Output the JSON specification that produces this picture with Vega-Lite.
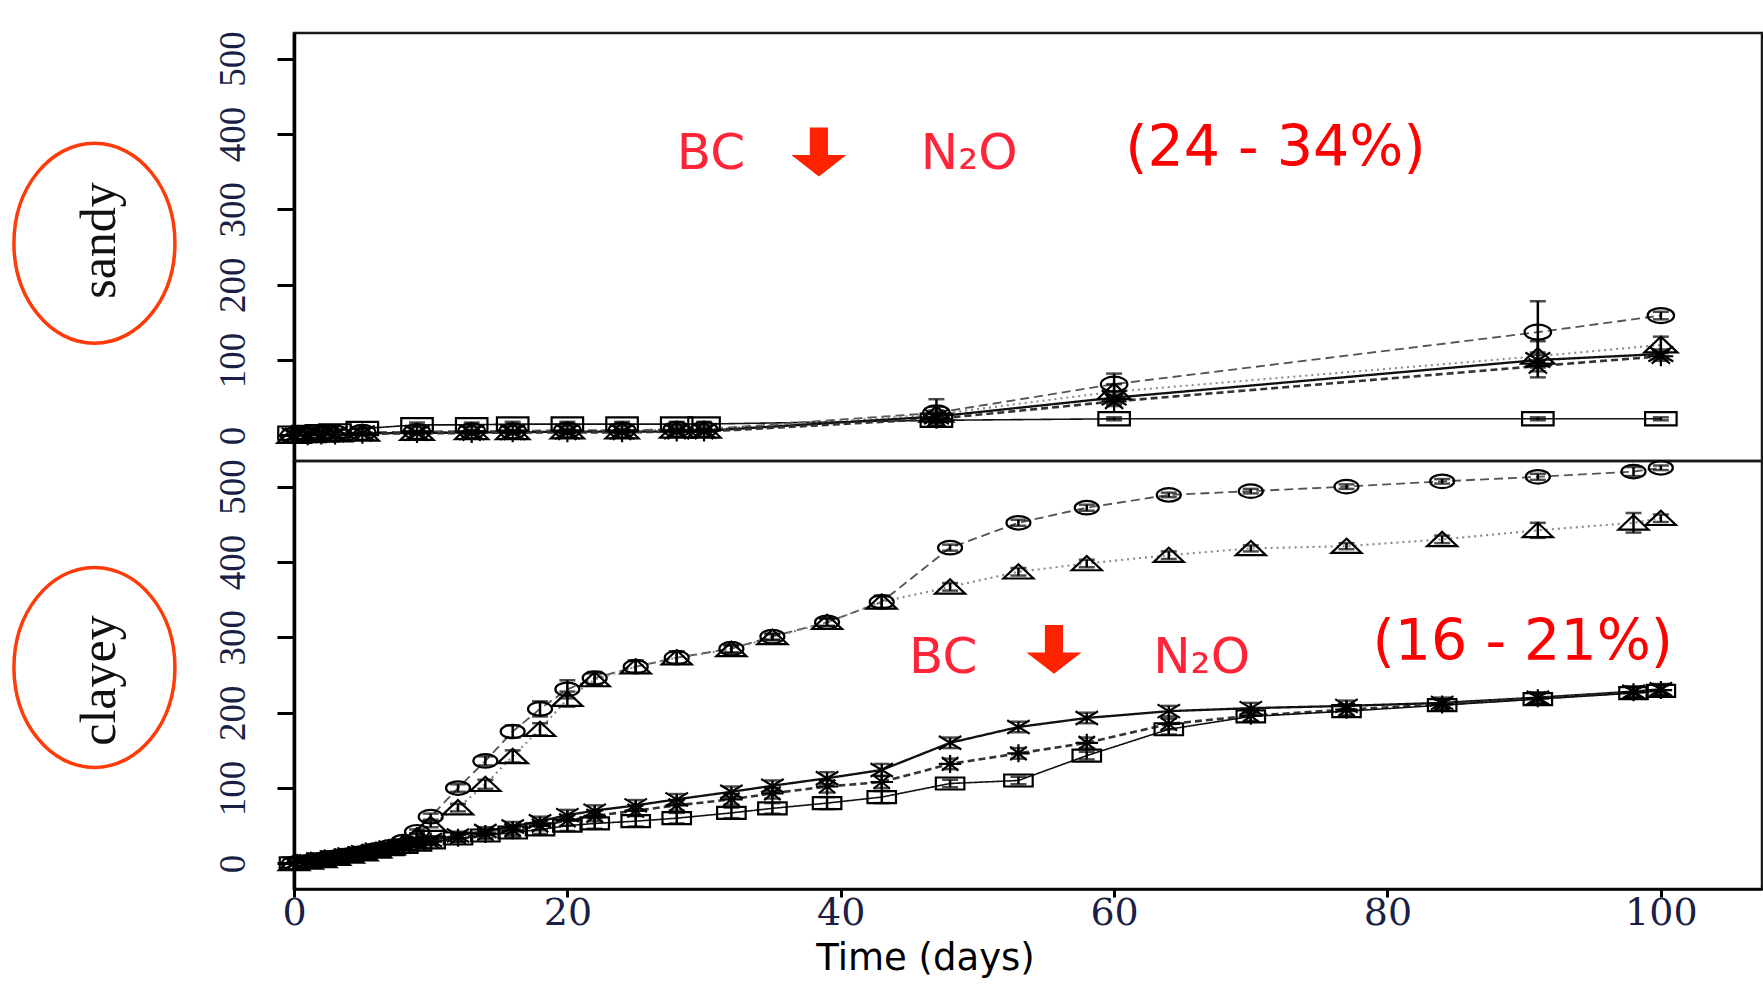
{
  "$schema": "https://vega.github.io/schema/vega-lite/v6.json",
  "background": "white",
  "padding": {"left": 5, "top": 29, "right": 0, "bottom": 5},
  "spacing": 0,
  "bounds": "flush",
  "config": {
    "view": {"stroke": "#1a1a1a", "strokeWidth": 2.5},
    "axisY": {
      "labelFont": "Liberation Serif", "labelFontSize": 37, "labelFontWeight": "normal", "labelColor": "#1b1f45",
      "labelAngle": 270, "labelAlign": "center", "labelBaseline": "alphabetic", "labelPadding": 33,
      "tickSize": 17, "tickWidth": 3, "tickColor": "#000", "domainColor": "#000", "domainWidth": 3.5,
      "grid": false, "titleFont": "Liberation Serif", "titleFontSize": 50, "titleFontWeight": "normal",
      "titleColor": "#111", "titleAngle": 270, "titleAlign": "center", "titleBaseline": "alphabetic", "titleX": -180
    },
    "axisX": {
      "labelFont": "DejaVu Serif", "labelFontSize": 38, "labelFontWeight": "normal", "labelColor": "#1b1f45", "labelPadding": -3, "labelFlush": false,
      "tickSize": 8, "tickWidth": 3, "tickColor": "#000", "domainColor": "#000", "domainWidth": 2.5,
      "grid": false, "titleFont": "DejaVu Sans", "titleFontSize": 37, "titleFontWeight": "normal", "titleColor": "#000"
    }
  },
  "datasets": {
    "pts": [
      {"s":"sandy","g":"sq","d":0,"v":3,"e":0},{"s":"sandy","g":"sq","d":1,"v":4,"e":0},{"s":"sandy","g":"sq","d":2,"v":5,"e":0},{"s":"sandy","g":"sq","d":3,"v":6,"e":0},{"s":"sandy","g":"sq","d":5,"v":9,"e":2},{"s":"sandy","g":"sq","d":9,"v":14,"e":3},{"s":"sandy","g":"sq","d":13,"v":14,"e":3},{"s":"sandy","g":"sq","d":16,"v":15,"e":3},{"s":"sandy","g":"sq","d":20,"v":15,"e":3},{"s":"sandy","g":"sq","d":24,"v":15,"e":3},{"s":"sandy","g":"sq","d":28,"v":15,"e":3},{"s":"sandy","g":"sq","d":30,"v":15,"e":3},{"s":"sandy","g":"sq","d":47,"v":20,"e":3},{"s":"sandy","g":"sq","d":60,"v":22,"e":2},{"s":"sandy","g":"sq","d":91,"v":22,"e":2},{"s":"sandy","g":"sq","d":100,"v":22,"e":2},
      {"s":"sandy","g":"ci","d":0,"v":0,"e":0},{"s":"sandy","g":"ci","d":1,"v":1,"e":0},{"s":"sandy","g":"ci","d":2,"v":2,"e":0},{"s":"sandy","g":"ci","d":3,"v":3,"e":0},{"s":"sandy","g":"ci","d":5,"v":4,"e":0},{"s":"sandy","g":"ci","d":9,"v":5,"e":1},{"s":"sandy","g":"ci","d":13,"v":6,"e":1},{"s":"sandy","g":"ci","d":16,"v":6,"e":1},{"s":"sandy","g":"ci","d":20,"v":7,"e":1},{"s":"sandy","g":"ci","d":24,"v":7,"e":1},{"s":"sandy","g":"ci","d":28,"v":8,"e":1},{"s":"sandy","g":"ci","d":30,"v":8,"e":1},{"s":"sandy","g":"ci","d":47,"v":30,"e":18},{"s":"sandy","g":"ci","d":60,"v":68,"e":14},{"s":"sandy","g":"ci","d":91,"v":137,"e":41},{"s":"sandy","g":"ci","d":100,"v":159,"e":5},
      {"s":"sandy","g":"tr","d":0,"v":0,"e":0},{"s":"sandy","g":"tr","d":1,"v":1,"e":0},{"s":"sandy","g":"tr","d":2,"v":2,"e":0},{"s":"sandy","g":"tr","d":3,"v":2,"e":0},{"s":"sandy","g":"tr","d":5,"v":3,"e":0},{"s":"sandy","g":"tr","d":9,"v":4,"e":1},{"s":"sandy","g":"tr","d":13,"v":5,"e":1},{"s":"sandy","g":"tr","d":16,"v":5,"e":1},{"s":"sandy","g":"tr","d":20,"v":6,"e":1},{"s":"sandy","g":"tr","d":24,"v":6,"e":1},{"s":"sandy","g":"tr","d":28,"v":7,"e":1},{"s":"sandy","g":"tr","d":30,"v":7,"e":1},{"s":"sandy","g":"tr","d":47,"v":28,"e":10},{"s":"sandy","g":"tr","d":60,"v":58,"e":10},{"s":"sandy","g":"tr","d":91,"v":105,"e":20},{"s":"sandy","g":"tr","d":100,"v":120,"e":11},
      {"s":"sandy","g":"x","d":0,"v":0,"e":0},{"s":"sandy","g":"x","d":1,"v":1,"e":0},{"s":"sandy","g":"x","d":2,"v":1,"e":0},{"s":"sandy","g":"x","d":3,"v":2,"e":0},{"s":"sandy","g":"x","d":5,"v":3,"e":0},{"s":"sandy","g":"x","d":9,"v":3,"e":2},{"s":"sandy","g":"x","d":13,"v":4,"e":2},{"s":"sandy","g":"x","d":16,"v":4,"e":2},{"s":"sandy","g":"x","d":20,"v":5,"e":2},{"s":"sandy","g":"x","d":24,"v":5,"e":2},{"s":"sandy","g":"x","d":28,"v":5,"e":2},{"s":"sandy","g":"x","d":30,"v":6,"e":2},{"s":"sandy","g":"x","d":47,"v":25,"e":8},{"s":"sandy","g":"x","d":60,"v":50,"e":8},{"s":"sandy","g":"x","d":91,"v":100,"e":10},{"s":"sandy","g":"x","d":100,"v":108,"e":6},
      {"s":"sandy","g":"as","d":0,"v":0,"e":0},{"s":"sandy","g":"as","d":1,"v":0,"e":0},{"s":"sandy","g":"as","d":2,"v":1,"e":0},{"s":"sandy","g":"as","d":3,"v":1,"e":0},{"s":"sandy","g":"as","d":5,"v":2,"e":0},{"s":"sandy","g":"as","d":9,"v":3,"e":2},{"s":"sandy","g":"as","d":13,"v":3,"e":2},{"s":"sandy","g":"as","d":16,"v":4,"e":2},{"s":"sandy","g":"as","d":20,"v":4,"e":2},{"s":"sandy","g":"as","d":24,"v":4,"e":2},{"s":"sandy","g":"as","d":28,"v":5,"e":2},{"s":"sandy","g":"as","d":30,"v":5,"e":2},{"s":"sandy","g":"as","d":47,"v":22,"e":8},{"s":"sandy","g":"as","d":60,"v":45,"e":6},{"s":"sandy","g":"as","d":91,"v":92,"e":15},{"s":"sandy","g":"as","d":100,"v":105,"e":6},

      {"s":"clayey","g":"ci","d":0,"v":0,"e":0},{"s":"clayey","g":"ci","d":1,"v":2,"e":1},{"s":"clayey","g":"ci","d":2,"v":5,"e":1},{"s":"clayey","g":"ci","d":3,"v":8,"e":2},{"s":"clayey","g":"ci","d":4,"v":11,"e":2},{"s":"clayey","g":"ci","d":5,"v":14,"e":2},{"s":"clayey","g":"ci","d":6,"v":18,"e":2},{"s":"clayey","g":"ci","d":7,"v":22,"e":2},{"s":"clayey","g":"ci","d":8,"v":29,"e":3},{"s":"clayey","g":"ci","d":9,"v":42,"e":3},{"s":"clayey","g":"ci","d":10,"v":62,"e":4},{"s":"clayey","g":"ci","d":12,"v":100,"e":5},{"s":"clayey","g":"ci","d":14,"v":136,"e":6},{"s":"clayey","g":"ci","d":16,"v":175,"e":8},{"s":"clayey","g":"ci","d":18,"v":205,"e":10},{"s":"clayey","g":"ci","d":20,"v":231,"e":12},{"s":"clayey","g":"ci","d":22,"v":246,"e":8},{"s":"clayey","g":"ci","d":25,"v":261,"e":8},{"s":"clayey","g":"ci","d":28,"v":273,"e":8},{"s":"clayey","g":"ci","d":32,"v":285,"e":5},{"s":"clayey","g":"ci","d":35,"v":301,"e":4},{"s":"clayey","g":"ci","d":39,"v":320,"e":5},{"s":"clayey","g":"ci","d":43,"v":347,"e":8},{"s":"clayey","g":"ci","d":48,"v":419,"e":4},{"s":"clayey","g":"ci","d":53,"v":452,"e":4},{"s":"clayey","g":"ci","d":58,"v":472,"e":4},{"s":"clayey","g":"ci","d":64,"v":489,"e":3},{"s":"clayey","g":"ci","d":70,"v":494,"e":3},{"s":"clayey","g":"ci","d":77,"v":500,"e":3},{"s":"clayey","g":"ci","d":84,"v":507,"e":3},{"s":"clayey","g":"ci","d":91,"v":513,"e":4},{"s":"clayey","g":"ci","d":98,"v":520,"e":6},{"s":"clayey","g":"ci","d":100,"v":525,"e":3},
      {"s":"clayey","g":"tr","d":0,"v":0,"e":0},{"s":"clayey","g":"tr","d":1,"v":2,"e":1},{"s":"clayey","g":"tr","d":2,"v":4,"e":1},{"s":"clayey","g":"tr","d":3,"v":7,"e":2},{"s":"clayey","g":"tr","d":4,"v":10,"e":2},{"s":"clayey","g":"tr","d":5,"v":13,"e":2},{"s":"clayey","g":"tr","d":6,"v":17,"e":2},{"s":"clayey","g":"tr","d":7,"v":21,"e":2},{"s":"clayey","g":"tr","d":8,"v":27,"e":3},{"s":"clayey","g":"tr","d":9,"v":37,"e":3},{"s":"clayey","g":"tr","d":10,"v":52,"e":4},{"s":"clayey","g":"tr","d":12,"v":74,"e":5},{"s":"clayey","g":"tr","d":14,"v":105,"e":6},{"s":"clayey","g":"tr","d":16,"v":142,"e":8},{"s":"clayey","g":"tr","d":18,"v":178,"e":8},{"s":"clayey","g":"tr","d":20,"v":218,"e":10},{"s":"clayey","g":"tr","d":22,"v":244,"e":8},{"s":"clayey","g":"tr","d":25,"v":261,"e":8},{"s":"clayey","g":"tr","d":28,"v":273,"e":8},{"s":"clayey","g":"tr","d":32,"v":284,"e":5},{"s":"clayey","g":"tr","d":35,"v":300,"e":4},{"s":"clayey","g":"tr","d":39,"v":320,"e":5},{"s":"clayey","g":"tr","d":43,"v":347,"e":8},{"s":"clayey","g":"tr","d":48,"v":367,"e":5},{"s":"clayey","g":"tr","d":53,"v":387,"e":5},{"s":"clayey","g":"tr","d":58,"v":398,"e":5},{"s":"clayey","g":"tr","d":64,"v":409,"e":5},{"s":"clayey","g":"tr","d":70,"v":418,"e":4},{"s":"clayey","g":"tr","d":77,"v":421,"e":4},{"s":"clayey","g":"tr","d":84,"v":430,"e":5},{"s":"clayey","g":"tr","d":91,"v":442,"e":10},{"s":"clayey","g":"tr","d":98,"v":452,"e":13},{"s":"clayey","g":"tr","d":100,"v":458,"e":5},
      {"s":"clayey","g":"x","d":0,"v":0,"e":0},{"s":"clayey","g":"x","d":1,"v":3,"e":1},{"s":"clayey","g":"x","d":2,"v":6,"e":1},{"s":"clayey","g":"x","d":3,"v":9,"e":2},{"s":"clayey","g":"x","d":4,"v":12,"e":2},{"s":"clayey","g":"x","d":5,"v":15,"e":3},{"s":"clayey","g":"x","d":6,"v":18,"e":3},{"s":"clayey","g":"x","d":7,"v":21,"e":3},{"s":"clayey","g":"x","d":8,"v":25,"e":3},{"s":"clayey","g":"x","d":9,"v":28,"e":4},{"s":"clayey","g":"x","d":10,"v":31,"e":4},{"s":"clayey","g":"x","d":12,"v":37,"e":5},{"s":"clayey","g":"x","d":14,"v":43,"e":5},{"s":"clayey","g":"x","d":16,"v":49,"e":6},{"s":"clayey","g":"x","d":18,"v":56,"e":6},{"s":"clayey","g":"x","d":20,"v":64,"e":7},{"s":"clayey","g":"x","d":22,"v":70,"e":7},{"s":"clayey","g":"x","d":25,"v":77,"e":7},{"s":"clayey","g":"x","d":28,"v":85,"e":7},{"s":"clayey","g":"x","d":32,"v":95,"e":7},{"s":"clayey","g":"x","d":35,"v":103,"e":7},{"s":"clayey","g":"x","d":39,"v":113,"e":8},{"s":"clayey","g":"x","d":43,"v":124,"e":8},{"s":"clayey","g":"x","d":48,"v":160,"e":7},{"s":"clayey","g":"x","d":53,"v":181,"e":7},{"s":"clayey","g":"x","d":58,"v":193,"e":7},{"s":"clayey","g":"x","d":64,"v":202,"e":7},{"s":"clayey","g":"x","d":70,"v":206,"e":7},{"s":"clayey","g":"x","d":77,"v":209,"e":7},{"s":"clayey","g":"x","d":84,"v":213,"e":7},{"s":"clayey","g":"x","d":91,"v":220,"e":7},{"s":"clayey","g":"x","d":98,"v":228,"e":7},{"s":"clayey","g":"x","d":100,"v":231,"e":7},
      {"s":"clayey","g":"as","d":0,"v":0,"e":0},{"s":"clayey","g":"as","d":1,"v":3,"e":1},{"s":"clayey","g":"as","d":2,"v":5,"e":1},{"s":"clayey","g":"as","d":3,"v":8,"e":2},{"s":"clayey","g":"as","d":4,"v":11,"e":2},{"s":"clayey","g":"as","d":5,"v":14,"e":3},{"s":"clayey","g":"as","d":6,"v":17,"e":3},{"s":"clayey","g":"as","d":7,"v":20,"e":3},{"s":"clayey","g":"as","d":8,"v":23,"e":3},{"s":"clayey","g":"as","d":9,"v":26,"e":4},{"s":"clayey","g":"as","d":10,"v":29,"e":4},{"s":"clayey","g":"as","d":12,"v":34,"e":5},{"s":"clayey","g":"as","d":14,"v":39,"e":5},{"s":"clayey","g":"as","d":16,"v":44,"e":6},{"s":"clayey","g":"as","d":18,"v":50,"e":6},{"s":"clayey","g":"as","d":20,"v":57,"e":7},{"s":"clayey","g":"as","d":22,"v":63,"e":7},{"s":"clayey","g":"as","d":25,"v":70,"e":7},{"s":"clayey","g":"as","d":28,"v":77,"e":7},{"s":"clayey","g":"as","d":32,"v":85,"e":7},{"s":"clayey","g":"as","d":35,"v":93,"e":7},{"s":"clayey","g":"as","d":39,"v":102,"e":8},{"s":"clayey","g":"as","d":43,"v":108,"e":8},{"s":"clayey","g":"as","d":48,"v":132,"e":7},{"s":"clayey","g":"as","d":53,"v":146,"e":7},{"s":"clayey","g":"as","d":58,"v":160,"e":7},{"s":"clayey","g":"as","d":64,"v":185,"e":7},{"s":"clayey","g":"as","d":70,"v":196,"e":7},{"s":"clayey","g":"as","d":77,"v":204,"e":7},{"s":"clayey","g":"as","d":84,"v":211,"e":7},{"s":"clayey","g":"as","d":91,"v":219,"e":7},{"s":"clayey","g":"as","d":98,"v":227,"e":7},{"s":"clayey","g":"as","d":100,"v":230,"e":7},
      {"s":"clayey","g":"sq","d":0,"v":0,"e":0},{"s":"clayey","g":"sq","d":1,"v":2,"e":1},{"s":"clayey","g":"sq","d":2,"v":5,"e":1},{"s":"clayey","g":"sq","d":3,"v":8,"e":2},{"s":"clayey","g":"sq","d":4,"v":10,"e":2},{"s":"clayey","g":"sq","d":5,"v":13,"e":3},{"s":"clayey","g":"sq","d":6,"v":16,"e":3},{"s":"clayey","g":"sq","d":7,"v":19,"e":3},{"s":"clayey","g":"sq","d":8,"v":22,"e":3},{"s":"clayey","g":"sq","d":9,"v":25,"e":4},{"s":"clayey","g":"sq","d":10,"v":28,"e":4},{"s":"clayey","g":"sq","d":12,"v":33,"e":5},{"s":"clayey","g":"sq","d":14,"v":37,"e":5},{"s":"clayey","g":"sq","d":16,"v":41,"e":6},{"s":"clayey","g":"sq","d":18,"v":45,"e":6},{"s":"clayey","g":"sq","d":20,"v":50,"e":7},{"s":"clayey","g":"sq","d":22,"v":53,"e":7},{"s":"clayey","g":"sq","d":25,"v":56,"e":7},{"s":"clayey","g":"sq","d":28,"v":60,"e":7},{"s":"clayey","g":"sq","d":32,"v":67,"e":7},{"s":"clayey","g":"sq","d":35,"v":73,"e":7},{"s":"clayey","g":"sq","d":39,"v":80,"e":8},{"s":"clayey","g":"sq","d":43,"v":88,"e":8},{"s":"clayey","g":"sq","d":48,"v":106,"e":5},{"s":"clayey","g":"sq","d":53,"v":110,"e":5},{"s":"clayey","g":"sq","d":58,"v":143,"e":5},{"s":"clayey","g":"sq","d":64,"v":178,"e":7},{"s":"clayey","g":"sq","d":70,"v":195,"e":7},{"s":"clayey","g":"sq","d":77,"v":202,"e":7},{"s":"clayey","g":"sq","d":84,"v":210,"e":7},{"s":"clayey","g":"sq","d":91,"v":218,"e":7},{"s":"clayey","g":"sq","d":98,"v":226,"e":7},{"s":"clayey","g":"sq","d":100,"v":229,"e":7}
    ],
    "ann": [
      {"s":"sandy","k":"bc","d":30.5,"v":354,"t":"BC"},
      {"s":"sandy","k":"bc","d":49.4,"v":354,"t":"N₂O"},
      {"s":"sandy","k":"pct","d":71.8,"v":358,"t":"(24 - 34%)"},
      {"s":"sandy","k":"arrow","d":38.4,"v":376,"t":""},
      {"s":"sandy","k":"ell","d":-14.6,"v":255,"t":""},
      {"s":"clayey","k":"bc","d":47.5,"v":253,"t":"BC"},
      {"s":"clayey","k":"bc","d":66.4,"v":253,"t":"N₂O"},
      {"s":"clayey","k":"pct","d":89.9,"v":270,"t":"(16 - 21%)"},
      {"s":"clayey","k":"arrow","d":55.6,"v":284,"t":""},
      {"s":"clayey","k":"ell","d":-14.6,"v":260,"t":""}
    ]
  },
  "vconcat": [
    {
      "width": 1468, "height": 428,
      "encoding": {
        "x": {"field": "d", "type": "quantitative", "scale": {"domain": [0, 107.4], "nice": false, "zero": false}, "axis": null},
        "y": {"field": "v", "type": "quantitative", "scale": {"domain": [-34, 534], "nice": false, "zero": false},
              "axis": {"values": [0, 100, 200, 300, 400, 500], "title": "sandy", "titleY": 207}}
      },
      "layer": [
        {"data": {"name": "pts"}, "transform": [{"filter": "datum.s === 'sandy'"}],
         "mark": {"type": "line"},
         "encoding": {
           "detail": {"field": "g", "type": "nominal"},
           "strokeDash": {"field": "g", "type": "nominal", "scale": {"domain": ["sq","ci","tr","x","as"], "range": [[1,0],[9,5],[2,4],[1,0],[7,4]]}, "legend": null},
           "color": {"field": "g", "type": "nominal", "scale": {"domain": ["sq","ci","tr","x","as"], "range": ["#111111","#555555","#888888","#111111","#333333"]}, "legend": null},
           "strokeWidth": {"field": "g", "type": "nominal", "scale": {"domain": ["sq","ci","tr","x","as"], "range": [1.6,2.6,2.2,1.6,2.4]}, "legend": null}
         }},
        {"data": {"name": "pts"}, "transform": [{"filter": "datum.s === 'sandy' && datum.e > 0"}],
         "mark": {"type": "errorbar", "color": "#000", "ticks": {"size": 16, "thickness": 2.5}, "rule": {"strokeWidth": 2.5}},
         "encoding": {"yError": {"field": "e"}}},
        {"data": {"name": "pts"}, "transform": [{"filter": "datum.s === 'sandy'"}],
         "mark": {"type": "point", "filled": false, "stroke": "#000", "strokeWidth": 2.2, "size": 1100, "opacity": 1},
         "encoding": {
           "shape": {"field": "g", "type": "nominal", "legend": null, "scale": {"domain": ["sq","ci","tr","x","as"], "range": [
             "M -0.95 -0.4 L 0.95 -0.4 L 0.95 0.4 L -0.95 0.4 Z",
             "M -0.8 0 A 0.8 0.45 0 1 0 0.8 0 A 0.8 0.45 0 1 0 -0.8 0 Z",
             "M 0 -0.5 L 1 0.45 L -1 0.45 Z",
             "M -0.75 -0.45 L 0.75 0.45 M -0.75 0.45 L 0.75 -0.45",
             "M -0.75 0 L 0.75 0 M 0 -0.6 L 0 0.6 M -0.55 -0.45 L 0.55 0.45 M -0.55 0.45 L 0.55 -0.45"]}}
         }},
        {"data": {"name": "ann"}, "transform": [{"filter": "datum.s === 'sandy' && datum.k === 'bc'"}],
         "mark": {"type": "text", "font": "DejaVu Sans", "fontSize": 50, "color": "#ff2438", "align": "center", "baseline": "alphabetic"},
         "encoding": {"text": {"field": "t"}}},
        {"data": {"name": "ann"}, "transform": [{"filter": "datum.s === 'sandy' && datum.k === 'pct'"}],
         "mark": {"type": "text", "font": "DejaVu Sans", "fontSize": 57, "color": "#ff0000", "align": "center", "baseline": "alphabetic"},
         "encoding": {"text": {"field": "t"}}},
        {"data": {"name": "ann"}, "transform": [{"filter": "datum.s === 'sandy' && datum.k === 'arrow'"}],
         "mark": {"type": "point", "filled": true, "color": "#ff2200", "opacity": 1, "strokeWidth": 0, "size": 3025,
                  "shape": "M -0.33 -0.89 L 0.33 -0.89 L 0.33 0.11 L 1 0.11 L 0 0.89 L -1 0.11 L -0.33 0.11 Z"}},
        {"data": {"name": "ann"}, "transform": [{"filter": "datum.s === 'sandy' && datum.k === 'ell'"}],
         "mark": {"type": "point", "filled": false, "stroke": "#ff3b0a", "strokeWidth": 3.5, "opacity": 1, "size": 40000,
                  "shape": "M -0.805 0 A 0.805 1 0 1 0 0.805 0 A 0.805 1 0 1 0 -0.805 0 Z"}}
      ]
    },
    {
      "width": 1468, "height": 428,
      "encoding": {
        "x": {"field": "d", "type": "quantitative", "scale": {"domain": [0, 107.4], "nice": false, "zero": false},
              "axis": {"values": [0, 20, 40, 60, 80, 100], "title": "Time (days)", "titleX": 631, "titleY": 80, "titleAlign": "center", "titleBaseline": "alphabetic"}},
        "y": {"field": "v", "type": "quantitative", "scale": {"domain": [-34, 534], "nice": false, "zero": false},
              "axis": {"values": [0, 100, 200, 300, 400, 500], "title": "clayey", "titleY": 219}}
      },
      "layer": [
        {"data": {"name": "pts"}, "transform": [{"filter": "datum.s === 'clayey'"}],
         "mark": {"type": "line"},
         "encoding": {
           "detail": {"field": "g", "type": "nominal"},
           "strokeDash": {"field": "g", "type": "nominal", "scale": {"domain": ["sq","ci","tr","x","as"], "range": [[1,0],[9,5],[2,4],[1,0],[7,4]]}, "legend": null},
           "color": {"field": "g", "type": "nominal", "scale": {"domain": ["sq","ci","tr","x","as"], "range": ["#111111","#555555","#888888","#111111","#333333"]}, "legend": null},
           "strokeWidth": {"field": "g", "type": "nominal", "scale": {"domain": ["sq","ci","tr","x","as"], "range": [1.6,2.6,2.2,1.6,2.4]}, "legend": null}
         }},
        {"data": {"name": "pts"}, "transform": [{"filter": "datum.s === 'clayey' && datum.e > 0"}],
         "mark": {"type": "errorbar", "color": "#000", "ticks": {"size": 16, "thickness": 2.5}, "rule": {"strokeWidth": 2.5}},
         "encoding": {"yError": {"field": "e"}}},
        {"data": {"name": "pts"}, "transform": [{"filter": "datum.s === 'clayey'"}],
         "mark": {"type": "point", "filled": false, "stroke": "#000", "strokeWidth": 2.2, "size": 900, "opacity": 1},
         "encoding": {
           "shape": {"field": "g", "type": "nominal", "legend": null, "scale": {"domain": ["sq","ci","tr","x","as"], "range": [
             "M -0.9 -0.5 L 0.9 -0.5 L 0.9 0.5 L -0.9 0.5 Z",
             "M -0.8 0 A 0.8 0.47 0 1 0 0.8 0 A 0.8 0.47 0 1 0 -0.8 0 Z",
             "M 0 -0.55 L 1 0.5 L -1 0.5 Z",
             "M -0.75 -0.45 L 0.75 0.45 M -0.75 0.45 L 0.75 -0.45",
             "M -0.75 0 L 0.75 0 M 0 -0.6 L 0 0.6 M -0.55 -0.45 L 0.55 0.45 M -0.55 0.45 L 0.55 -0.45"]}}
         }},
        {"data": {"name": "ann"}, "transform": [{"filter": "datum.s === 'clayey' && datum.k === 'bc'"}],
         "mark": {"type": "text", "font": "DejaVu Sans", "fontSize": 50, "color": "#ff2438", "align": "center", "baseline": "alphabetic"},
         "encoding": {"text": {"field": "t"}}},
        {"data": {"name": "ann"}, "transform": [{"filter": "datum.s === 'clayey' && datum.k === 'pct'"}],
         "mark": {"type": "text", "font": "DejaVu Sans", "fontSize": 57, "color": "#ff0000", "align": "center", "baseline": "alphabetic"},
         "encoding": {"text": {"field": "t"}}},
        {"data": {"name": "ann"}, "transform": [{"filter": "datum.s === 'clayey' && datum.k === 'arrow'"}],
         "mark": {"type": "point", "filled": true, "color": "#ff2200", "opacity": 1, "strokeWidth": 0, "size": 3025,
                  "shape": "M -0.33 -0.89 L 0.33 -0.89 L 0.33 0.11 L 1 0.11 L 0 0.89 L -1 0.11 L -0.33 0.11 Z"}},
        {"data": {"name": "ann"}, "transform": [{"filter": "datum.s === 'clayey' && datum.k === 'ell'"}],
         "mark": {"type": "point", "filled": false, "stroke": "#ff3b0a", "strokeWidth": 3.5, "opacity": 1, "size": 40000,
                  "shape": "M -0.805 0 A 0.805 1 0 1 0 0.805 0 A 0.805 1 0 1 0 -0.805 0 Z"}}
      ]
    }
  ]
}
